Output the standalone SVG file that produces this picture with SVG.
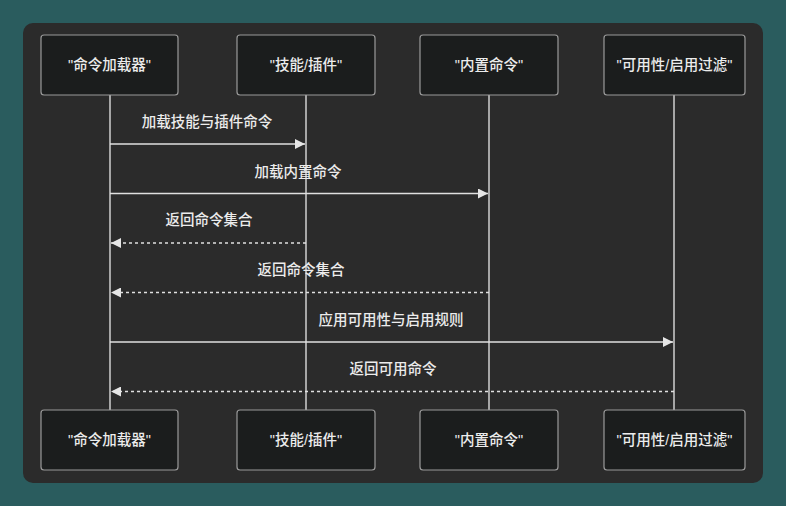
<svg xmlns="http://www.w3.org/2000/svg" width="786" height="506" viewBox="0 0 786 506">
<defs>
<style>
.actor rect{fill:#1b1d1d;stroke:#9a9a9a;stroke-width:1.2}
.actor text{fill:#ececec;font-family:"Liberation Sans","Noto Sans CJK SC",sans-serif;font-size:14.5px;font-weight:500;text-anchor:middle;dominant-baseline:central}
.life{stroke:#d0d0d0;stroke-width:1.5;fill:none}
.msg{stroke:#e0e0e0;stroke-width:1.5;fill:none}
.dash{stroke-dasharray:3 3}
.lbl{fill:#ececec;font-family:"Liberation Sans","Noto Sans CJK SC",sans-serif;font-size:14.5px;font-weight:500;text-anchor:middle;dominant-baseline:central}
</style>
<marker id="arr" viewBox="0 0 10 10" refX="10" refY="5" markerWidth="10" markerHeight="10" markerUnits="userSpaceOnUse" orient="auto">
<path d="M0,0 L10,5 L0,10 z" fill="#e6e6e6"/>
</marker>
</defs>
<rect width="786" height="506" fill="#2a5c5e"/>
<rect x="23" y="23" width="740" height="460" rx="10" fill="#2b2b2b"/>
<g id="lifelines">
<line class="life" x1="110" y1="95" x2="110" y2="410"/>
<line class="life" x1="306" y1="95" x2="306" y2="410"/>
<line class="life" x1="489" y1="95" x2="489" y2="410"/>
<line class="life" x1="674" y1="95" x2="674" y2="410"/>
</g>
<g id="actor-loader-top" class="actor"><rect x="41" y="35" width="137" height="60" rx="3"/><text x="109.5" y="65">"命令加载器"</text></g>
<g id="actor-skills-top" class="actor"><rect x="237" y="35" width="138" height="60" rx="3"/><text x="306" y="65">"技能/插件"</text></g>
<g id="actor-builtin-top" class="actor"><rect x="420" y="35" width="138" height="60" rx="3"/><text x="489" y="65">"内置命令"</text></g>
<g id="actor-filter-top" class="actor"><rect x="604" y="35" width="141" height="60" rx="3"/><text x="674.5" y="65">"可用性/启用过滤"</text></g>
<g id="actor-loader-bottom" class="actor"><rect x="41" y="410" width="137" height="60" rx="3"/><text x="109.5" y="440">"命令加载器"</text></g>
<g id="actor-skills-bottom" class="actor"><rect x="237" y="410" width="138" height="60" rx="3"/><text x="306" y="440">"技能/插件"</text></g>
<g id="actor-builtin-bottom" class="actor"><rect x="420" y="410" width="138" height="60" rx="3"/><text x="489" y="440">"内置命令"</text></g>
<g id="actor-filter-bottom" class="actor"><rect x="604" y="410" width="141" height="60" rx="3"/><text x="674.5" y="440">"可用性/启用过滤"</text></g>
<g id="connectors">
<text class="lbl" x="207" y="122">加载技能与插件命令</text>
<line class="msg" x1="110" y1="144" x2="305" y2="144" marker-end="url(#arr)"/>
<text class="lbl" x="298" y="172">加载内置命令</text>
<line class="msg" x1="110" y1="193.5" x2="488" y2="193.5" marker-end="url(#arr)"/>
<text class="lbl" x="209" y="220">返回命令集合</text>
<line class="msg dash" x1="306" y1="243" x2="111" y2="243" marker-end="url(#arr)"/>
<text class="lbl" x="301" y="270">返回命令集合</text>
<line class="msg dash" x1="489" y1="292.5" x2="111" y2="292.5" marker-end="url(#arr)"/>
<text class="lbl" x="391" y="320">应用可用性与启用规则</text>
<line class="msg" x1="110" y1="342" x2="673" y2="342" marker-end="url(#arr)"/>
<text class="lbl" x="393" y="369">返回可用命令</text>
<line class="msg dash" x1="674" y1="391.5" x2="111" y2="391.5" marker-end="url(#arr)"/>
</g>
</svg>
